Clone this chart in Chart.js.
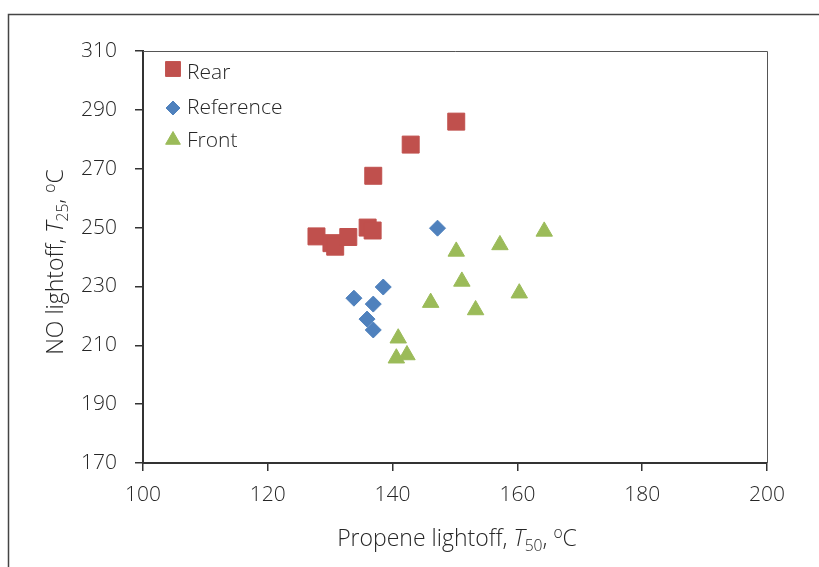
<!DOCTYPE html>
<html>
<head>
<meta charset="utf-8">
<script src="https://cdn.jsdelivr.net/npm/chart.js@4.4.1/dist/chart.umd.min.js"></script>
<style>
html,body{margin:0;padding:0;background:#fff;}
#wrap{width:819px;height:567px;position:relative;}
</style>
</head>
<body>
<div id="wrap"><canvas id="c" width="819" height="567"></canvas></div>
<script>
// ---- data ----
const seriesNames = ["Rear", "Reference", "Front"];
const rearX  = [127.8, 130.2, 130.8, 132.9, 136.0, 136.8, 136.9, 142.9, 150.2];
const rearY  = [247.0, 244.7, 243.5, 246.8, 250.0, 249.0, 267.6, 278.2, 286.0];
const refX   = [133.8, 135.9, 136.9, 136.9, 138.5, 147.2];
const refY   = [226.0, 218.9, 224.0, 215.2, 229.8, 249.8];
const frontX = [140.6, 140.9, 142.3, 146.1, 150.2, 151.1, 153.3, 157.2, 160.3, 164.3];
const frontY = [205.6, 212.4, 206.7, 224.5, 241.9, 231.7, 222.0, 244.1, 227.7, 248.7];
const xTicks = [100, 120, 140, 160, 180, 200];
const yTicks = [170, 190, 210, 230, 250, 270, 290, 310];

const toPts = (xs, ys) => xs.map((x, i) => ({x: x, y: ys[i]}));

const FONT = "'Open Sans', 'Noto Sans', sans-serif";
const WEIGHT = '300';
const TXT = '#262626';
const AX = '#333333';

const colors = ['#C0504D', '#4F81BD', '#9BBB59'];
const styles = ['rect', 'rectRot', 'triangle'];
const radii = [12, 8, 9.5];
const legendRadii = [10.5, 7, 8.5];

function drawRich(ctx, parts, size) {
  let x = 0;
  parts.forEach(p => {
    let fs = size, dy = 0, st = '';
    if (p.sub) { fs = size * 0.68; dy = size * 0.22; }
    if (p.sup) { fs = size * 0.68; dy = -size * 0.38; }
    if (p.it) st = 'italic ';
    ctx.font = st + WEIGHT + ' ' + fs + 'px ' + FONT;
    if (ctx._draw) ctx.fillText(p.t, x, dy);
    x += ctx.measureText(p.t).width;
  });
  return x;
}
function richText(ctx, parts, size, cx, cy, rot) {
  ctx.save();
  ctx.fillStyle = TXT;
  ctx.textBaseline = 'alphabetic';
  ctx.textAlign = 'left';
  ctx._draw = false;
  const w = drawRich(ctx, parts, size);
  ctx.translate(cx, cy);
  if (rot) ctx.rotate(rot);
  ctx.translate(-w / 2, size * 0.36);
  ctx._draw = true;
  drawRich(ctx, parts, size);
  ctx._draw = false;
  ctx.restore();
}

const decor = {
  id: 'decor',
  beforeDraw(chart) {
    const ctx = chart.ctx;
    ctx.save();
    ctx.fillStyle = '#fff';
    ctx.fillRect(0, 0, chart.width, chart.height);
    ctx.strokeStyle = '#444';
    ctx.lineWidth = 1.5;
    ctx.beginPath();
    ctx.moveTo(8.5, chart.height);
    ctx.lineTo(8.5, 14.5);
    ctx.lineTo(chart.width, 14.5);
    ctx.stroke();
    ctx.restore();
  },
  afterDraw(chart) {
    const ctx = chart.ctx;
    const a = chart.chartArea;
    ctx.save();
    ctx.strokeStyle = '#555';
    ctx.lineWidth = 1;
    ctx.beginPath();
    ctx.moveTo(a.left, a.top + 0.5);
    ctx.lineTo(a.right + 0.5, a.top + 0.5);
    ctx.lineTo(a.right + 0.5, a.bottom);
    ctx.stroke();
    ctx.restore();

    richText(ctx, [{t: 'Propene lightoff, '}, {t: 'T', it: true}, {t: '50', sub: true}, {t: ', '}, {t: 'o', sup: true}, {t: 'C'}],
      23, 457, 538, 0);
    richText(ctx, [{t: 'NO lightoff, '}, {t: 'T', it: true}, {t: '25', sub: true}, {t: ', '}, {t: 'o', sup: true}, {t: 'C'}],
      23, 55, 262, -Math.PI / 2);

    const rows = [73, 108, 141];
    chart.data.datasets.forEach((ds, i) => {
      ctx.save();
      ctx.fillStyle = ds.backgroundColor;
      ctx.strokeStyle = ds.backgroundColor;
      ctx.lineWidth = 1;
      Chart.helpers.drawPoint(ctx, {pointStyle: ds.pointStyle, radius: legendRadii[i], borderWidth: 1, rotation: 0},
        173, rows[i] + (i === 0 ? -4 : (i === 2 ? -1 : 0)));
      ctx.fillStyle = TXT;
      ctx.font = WEIGHT + ' 21px ' + FONT;
      ctx.textBaseline = 'middle';
      ctx.textAlign = 'left';
      ctx.fillText(ds.label, 187, rows[i]);
      ctx.restore();
    });
  }
};

const datasets = [
  {label: seriesNames[0], data: toPts(rearX, rearY)},
  {label: seriesNames[1], data: toPts(refX, refY)},
  {label: seriesNames[2], data: toPts(frontX, frontY)}
].map((d, i) => Object.assign(d, {
  backgroundColor: colors[i],
  borderColor: colors[i],
  pointStyle: styles[i],
  pointRadius: radii[i],
  pointHoverRadius: radii[i],
  borderWidth: 1,
  showLine: false
}));

new Chart(document.getElementById('c'), {
  type: 'scatter',
  data: {datasets: datasets},
  options: {
    responsive: false,
    animation: false,
    events: [],
    layout: {padding: {top: 51, right: 52, left: 0, bottom: 0}},
    plugins: {legend: {display: false}, tooltip: {enabled: false}},
    scales: {
      x: {
        type: 'linear', min: xTicks[0], max: xTicks[xTicks.length - 1],
        afterBuildTicks: s => { s.ticks = xTicks.map(v => ({value: v})); },
        afterFit: s => { s.height = 104; },
        ticks: {font: {family: FONT, size: 21, weight: WEIGHT}, color: TXT, padding: 11, maxRotation: 0},
        grid: {drawOnChartArea: false, drawTicks: true, tickLength: 8, color: AX, lineWidth: 1.5},
        border: {display: true, color: AX, width: 2}
      },
      y: {
        type: 'linear', min: yTicks[0], max: yTicks[yTicks.length - 1],
        afterBuildTicks: s => { s.ticks = yTicks.map(v => ({value: v})); },
        afterFit: s => { s.width = 143; },
        ticks: {font: {family: FONT, size: 21, weight: WEIGHT}, color: TXT, padding: 18},
        grid: {drawOnChartArea: false, drawTicks: true, tickLength: 8, color: AX, lineWidth: 1.5},
        border: {display: true, color: AX, width: 2}
      }
    }
  },
  plugins: [decor]
});
</script>
</body>
</html>
